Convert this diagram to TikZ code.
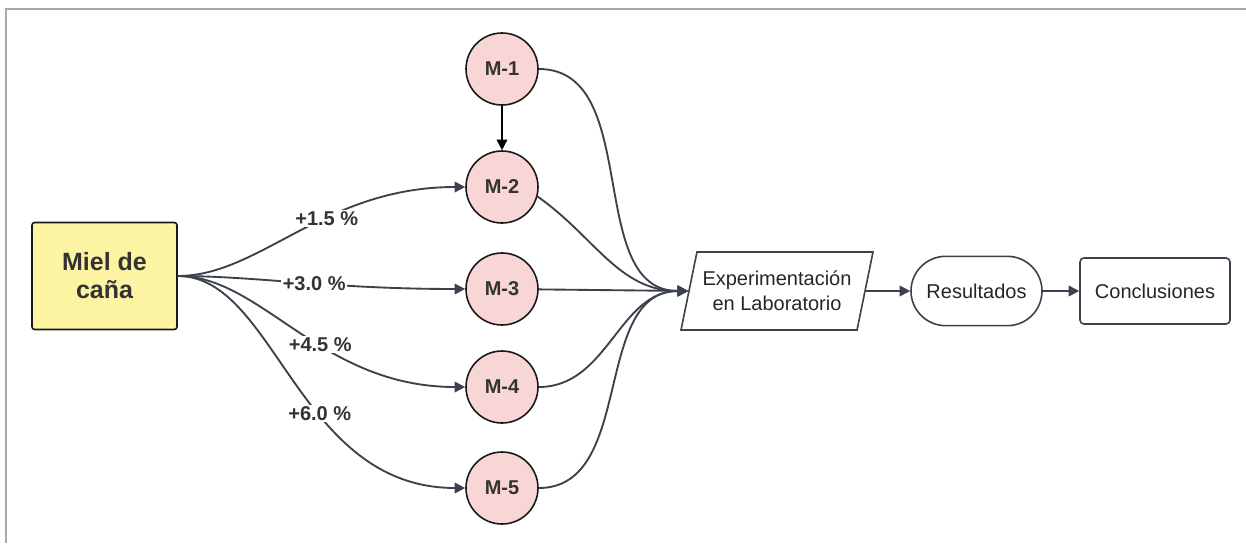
\documentclass[tikz,border=0pt]{standalone}
\usepackage{fontspec}
\setmainfont{Liberation Sans}
\usetikzlibrary{arrows.meta,shapes.geometric}
\definecolor{lineas}{HTML}{3B414D}
\definecolor{amarillo}{HTML}{FCF4A3}
\definecolor{rosa}{HTML}{F9D6D6}
\definecolor{texto}{HTML}{333333}
\definecolor{gris}{HTML}{A8A8A8}
\newcommand{\dosis}[3]
{
\draw[enlace] (miel.east) to[out=0, in=180, out looseness=0.7, in looseness=1.2]
node[pos=#3, porcentaje]{#2} (#1.west);
}

\begin{document}
\begin{tikzpicture}[x=0.75pt, y=-0.75pt,
  % estilos
  enlace/.style={lineas, line width=1.4pt, -{Triangle[length=8pt, width=8pt]}},
  muestra/.style={circle, draw=black!90, line width=1.2pt, fill=rosa,
    minimum size=54pt, inner sep=0pt, text=texto,
    font=\bfseries\fontsize{15}{18}\selectfont},
  porcentaje/.style={fill=white, inner sep=1pt, text=texto,
    font=\bfseries\fontsize{15}{18}\selectfont},
  caja/.style={draw=lineas, line width=1.2pt, fill=white, align=center,
    font=\fontsize{15}{19}\selectfont, text=black!85}
  ]
  \useasboundingbox (0,0) rectangle (1246,543);
  \draw[gris, line width=1.5pt] (1246,9) -- (6,9) -- (6,543);

  \node[draw=black!90, line width=1.2pt, fill=amarillo, rounded corners=2pt,
    minimum width=108.75pt, minimum height=80.25pt, align=center, text=texto,
    font=\bfseries\fontsize{18.75}{21}\selectfont] (miel) at (104.5,276) {Miel de\\caña};

  \node[muestra] (m1) at (502,69) {M-1};
  \node[muestra] (m2) at (502,187) {M-2};
  \node[muestra] (m3) at (502,289) {M-3};
  \node[muestra] (m4) at (502,387) {M-4};
  \node[muestra] (m5) at (502,488) {M-5};

  \node[caja, trapezium, trapezium left angle=72, trapezium right angle=108,
    trapezium stretches body=true, minimum width=144pt, minimum height=58.5pt,
    inner xsep=2pt] (exp) at (777,291) {Experimentación\\en Laboratorio};
  \node[caja, rounded corners=26pt, minimum width=98.25pt, minimum height=52pt]
    (res) at (976.5,291) {Resultados};
  \node[caja, rounded corners=3pt, minimum width=112.5pt, minimum height=49.5pt]
    (concl) at (1155,291) {Conclusiones};

  \dosis{m2}{+1.5 \%}{0.6}
  \dosis{m3}{+3.0 \%}{0.55}
  \dosis{m4}{+4.5 \%}{0.58}
  \dosis{m5}{+6.0 \%}{0.6}

  \draw[line width=1.2pt, -{Triangle[length=8pt, width=8pt]}] (m1) -- (m2);

  \draw[enlace] (m1.east) to[out=0, in=180] (exp.west);
  \draw[enlace] (m2.-15) to[out=-35, in=180] (exp.west);
  \draw[enlace] (m3) -- (exp.west);
  \draw[enlace] (m4.east) to[out=0, in=180] (exp.west);
  \draw[enlace] (m5.east) to[out=0, in=180] (exp.west);

  \draw[enlace] (exp) -- (res);
  \draw[enlace] (res) -- (concl);
\end{tikzpicture}
\end{document}
